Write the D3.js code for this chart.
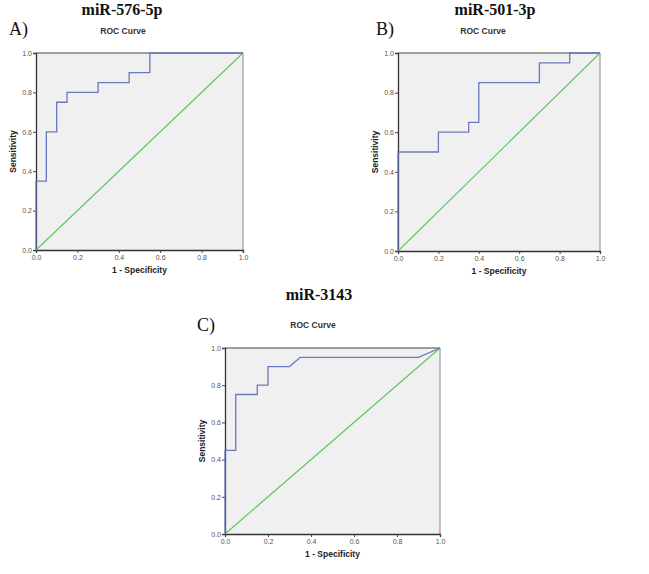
<!DOCTYPE html>
<html><head><meta charset="utf-8">
<script src="https://cdn.jsdelivr.net/npm/d3@7/dist/d3.min.js"></script>
<style>body{margin:0;background:#fff}svg{display:block}</style>
</head><body>
<script>
// Data
const panelNames = ["miR-576-5p", "miR-501-3p", "miR-3143"];
const panelLetters = ["A)", "B)", "C)"];
const fprA = [0, 0, 0.05, 0.05, 0.10, 0.10, 0.15, 0.15, 0.30, 0.30, 0.45, 0.45, 0.55, 0.55, 1.0];
const tprA = [0, 0.35, 0.35, 0.60, 0.60, 0.75, 0.75, 0.80, 0.80, 0.85, 0.85, 0.90, 0.90, 1.0, 1.0];
const fprB = [0, 0, 0.20, 0.20, 0.35, 0.35, 0.40, 0.40, 0.70, 0.70, 0.85, 0.85, 1.0];
const tprB = [0, 0.50, 0.50, 0.60, 0.60, 0.65, 0.65, 0.85, 0.85, 0.95, 0.95, 1.0, 1.0];
const fprC = [0, 0, 0.05, 0.05, 0.15, 0.15, 0.20, 0.20, 0.30, 0.35, 0.90, 1.0];
const tprC = [0, 0.45, 0.45, 0.75, 0.75, 0.80, 0.80, 0.90, 0.90, 0.95, 0.95, 1.0];
const refX = [0, 1];
const refY = [0, 1];
const tickValues = [0, 0.2, 0.4, 0.6, 0.8, 1.0];
const tickLabels = ["0.0", "0.2", "0.4", "0.6", "0.8", "1.0"];
const chartTitle = "ROC Curve";
const xLabel = "1 - Specificity";
const yLabel = "Sensitivity";

const svg = d3.select("body").append("svg").attr("width", 649).attr("height", 574);
svg.append("rect").attr("width", 649).attr("height", 574).attr("fill", "#fff");

const layouts = [
  {x0: 36, x1: 243, y0: 53, y1: 250, nameX: 122, nameY: 15, letX: 9, letY: 35, titleX: 123, titleY: 34},
  {x0: 398, x1: 600, y0: 53, y1: 251, nameX: 495, nameY: 15, letX: 376, letY: 35, titleX: 483, titleY: 34},
  {x0: 225, x1: 440, y0: 348, y1: 534, nameX: 319, nameY: 300, letX: 197, letY: 331, titleX: 313, titleY: 328}
];
const fprs = [fprA, fprB, fprC];
const tprs = [tprA, tprB, tprC];

layouts.forEach((L, i) => {
  const x = d3.scaleLinear().domain([0, 1]).range([L.x0, L.x1]);
  const y = d3.scaleLinear().domain([0, 1]).range([L.y1, L.y0]);
  const g = svg.append("g");

  g.append("text").attr("x", L.nameX).attr("y", L.nameY).attr("text-anchor", "middle")
    .attr("font-family", "Liberation Serif, Times New Roman, serif").attr("font-weight", "bold")
    .attr("font-size", 16).attr("fill", "#111").text(panelNames[i]);
  g.append("text").attr("x", L.letX).attr("y", L.letY)
    .attr("font-family", "Liberation Serif, Times New Roman, serif")
    .attr("font-size", 18).attr("fill", "#111").text(panelLetters[i]);
  g.append("text").attr("x", L.titleX).attr("y", L.titleY).attr("text-anchor", "middle")
    .attr("font-family", "Liberation Sans, Arial, sans-serif").attr("font-weight", "bold")
    .attr("font-size", 8.5).attr("fill", "#333").text(chartTitle);

  g.append("rect").attr("x", L.x0).attr("y", L.y0).attr("width", L.x1 - L.x0).attr("height", L.y1 - L.y0)
    .attr("fill", "#f0f0f0");
  // top & right frame
  g.append("line").attr("x1", L.x0).attr("x2", L.x1).attr("y1", L.y0).attr("y2", L.y0).attr("stroke", "#444").attr("stroke-width", 1);
  g.append("line").attr("x1", L.x1).attr("x2", L.x1).attr("y1", L.y0).attr("y2", L.y1).attr("stroke", "#999").attr("stroke-width", 1.2);

  const fmt = d => tickLabels[tickValues.indexOf(d)];
  const ax = g.append("g").attr("transform", `translate(0,${L.y1})`)
    .call(d3.axisBottom(x).tickValues(tickValues).tickFormat(fmt).tickSize(3).tickPadding(2));
  const ay = g.append("g").attr("transform", `translate(${L.x0},0)`)
    .call(d3.axisLeft(y).tickValues(tickValues).tickFormat(fmt).tickSize(3).tickPadding(1));
  [ax, ay].forEach(a => {
    a.select(".domain").attr("stroke", "#333").attr("stroke-width", 1.3);
    a.selectAll(".tick line").attr("stroke", "#444");
    a.selectAll(".tick text").attr("font-family", "Liberation Sans, Arial, sans-serif")
      .attr("font-size", 7).attr("fill", "#555");
  });

  // reference line
  const line = d3.line().x(d => x(d[0])).y(d => y(d[1]));
  g.append("path").datum(refX.map((v, k) => [v, refY[k]])).attr("d", line)
    .attr("fill", "none").attr("stroke", "#62c662").attr("stroke-width", 1.2);
  // ROC curve
  g.append("path").datum(fprs[i].map((v, k) => [v, tprs[i][k]])).attr("d", line)
    .attr("fill", "none").attr("stroke", "#6a78bf").attr("stroke-width", 1.3);

  g.append("text").attr("x", (L.x0 + L.x1) / 2).attr("y", L.y1 + 23).attr("text-anchor", "middle")
    .attr("font-family", "Liberation Sans, Arial, sans-serif").attr("font-weight", "bold")
    .attr("font-size", 8.5).attr("fill", "#222").text(xLabel);
  g.append("text").attr("transform", `translate(${L.x0 - 20},${(L.y0 + L.y1) / 2}) rotate(-90)`)
    .attr("text-anchor", "middle")
    .attr("font-family", "Liberation Sans, Arial, sans-serif").attr("font-weight", "bold")
    .attr("font-size", 8.5).attr("fill", "#222").text(yLabel);
});
</script>
</body></html>
